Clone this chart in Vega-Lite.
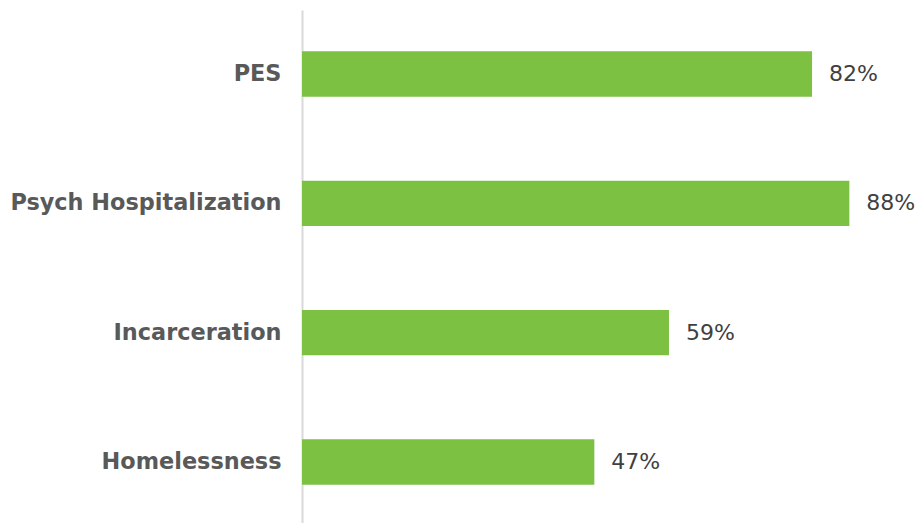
{
  "$schema": "https://vega.github.io/schema/vega-lite/v6.json",
  "width": 622,
  "height": 516,
  "autosize": "none",
  "padding": {"left": 302, "top": 10, "right": 0, "bottom": 0},
  "background": "white",
  "config": {"view": {"stroke": null}},
  "data": {"values": [
    {"category": "PES", "value": 0.82},
    {"category": "Psych Hospitalization", "value": 0.88},
    {"category": "Incarceration", "value": 0.59},
    {"category": "Homelessness", "value": 0.47}
  ]},
  "encoding": {
    "y": {"field": "category", "type": "nominal", "sort": null,
      "scale": {"paddingInner": 0.649, "paddingOuter": 0.32},
      "axis": {"title": null, "ticks": false, "labelPadding": 21, "domainColor": "#d9d9d9", "domainWidth": 2,
        "labelFont": "DejaVu Sans", "labelFontSize": 22.4, "labelFontWeight": "bold", "labelColor": "#595959", "labelLimit": 400}},
    "x": {"field": "value", "type": "quantitative", "scale": {"domain": [0, 1]}, "axis": null}
  },
  "layer": [
    {"mark": {"type": "bar", "color": "#7DC143"}},
    {"mark": {"type": "text", "align": "left", "baseline": "middle", "dx": 17, "font": "DejaVu Sans", "fontSize": 22, "color": "#404040"},
      "encoding": {"text": {"field": "value", "type": "quantitative", "format": ".0%"}}}
  ]
}
